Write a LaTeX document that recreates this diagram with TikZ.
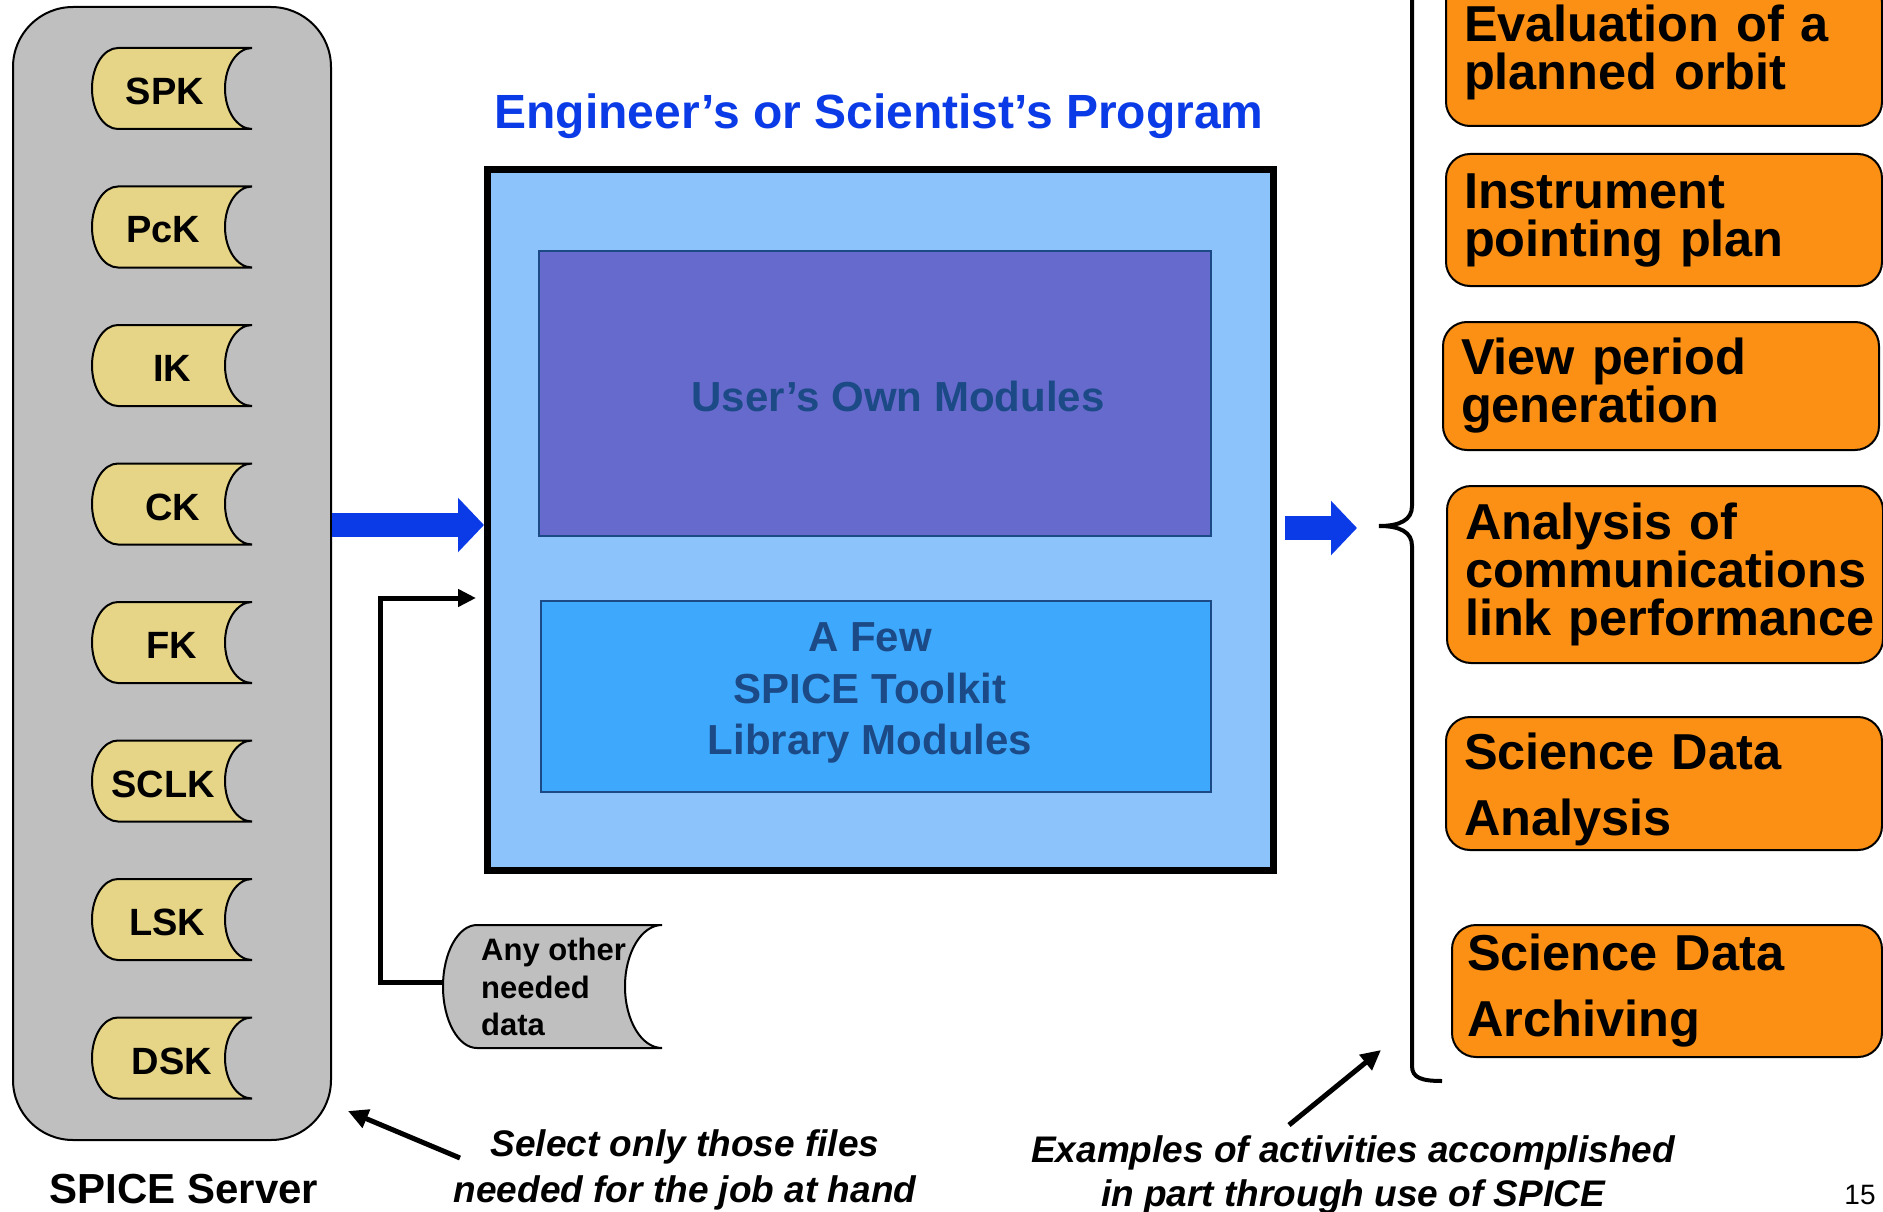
\documentclass[tikz,border=0pt]{standalone}
\usepackage{fontspec}
\setmainfont{Liberation Sans}
\usetikzlibrary{arrows.meta}
\definecolor{servergray}{HTML}{BFBFBF}
\definecolor{kernelyellow}{HTML}{E6D586}
\definecolor{arrowblue}{HTML}{0A3BE6}
\definecolor{programblue}{HTML}{8CC3FA}
\definecolor{ownviolet}{HTML}{666ACC}
\definecolor{toolkitblue}{HTML}{3EA9FC}
\definecolor{modulenavy}{HTML}{1B4A86}
\definecolor{activityorange}{HTML}{FB9014}
\tikzset{
  bluearrow/.style={draw=arrowblue,line width=24pt,-{Triangle[length=26pt,width=53pt]}},
  pointer/.style={line width=5pt,-{Triangle[length=20pt,width=19pt]}},
  activity/.style={draw,line width=2pt,fill=activityorange,rounded corners=24pt,
    anchor=west,minimum width=436pt,text width=400pt,align=left,
    font=\bfseries\fontsize{50.5}{48}\selectfont},
  module/.style={draw=modulenavy,line width=2pt},
  modtext/.style={text=modulenavy,align=center,font=\bfseries\fontsize{42}{51.5}\selectfont},
  kernel/.style={font=\bfseries\fontsize{38}{40}\selectfont},
  remark/.style={align=center,font=\bfseries\itshape\fontsize{37}{46}\selectfont}
}
\begin{document}
\begin{tikzpicture}[>=Latex,x=1pt,y=-1pt]
  % Configurable parameters
  \def\kleft{92}
  \def\kright{252}
  \def\khalf{40.5}
  %
  % Frame
  \clip (0,0) rectangle (1883,1212);
  %
  % SPICE server
  \node[draw,line width=2pt,fill=servergray,rounded corners=60pt,
    minimum width=318pt,minimum height=1133pt] (server) at (172,573.5) {};
  \node[font=\bfseries\fontsize{42}{48}\selectfont] (servername) at (184,1189) {SPICE Server};
  %
  % Kernel files
  \foreach \kname/\y/\tx in {SPK/88.5/165,PcK/227/163,IK/365.5/172,CK/504/173,
    FK/642.5/172,SCLK/781/163,LSK/919.5/167,DSK/1058/172}{
    \draw[line width=2pt,fill=kernelyellow] (\kright,\y-\khalf) -- (\kleft+26,\y-\khalf)
      arc[start angle=90,end angle=270,x radius=26pt,y radius=\khalf pt]
      -- (\kright,\y+\khalf)
      arc[start angle=270,end angle=90,x radius=27pt,y radius=\khalf pt];
    \node[kernel] (\kname) at (\tx,\y+3) {\kname};
  }
  %
  % Program
  \node[draw,line width=7pt,fill=programblue,minimum width=786pt,minimum height=701pt]
    (prog) at (880.5,520) {};
  \node[text=arrowblue,font=\bfseries\fontsize{48}{50}\selectfont] (progname) at (879,116)
    {Engineer’s or Scientist’s Program};
  \node[module,fill=ownviolet,minimum width=672pt,minimum height=285pt] (own) at (875,393.5) {};
  \node[modtext] (owntext) at (898,396) {User’s Own Modules};
  \node[module,fill=toolkitblue,minimum width=670pt,minimum height=191pt] (toolkit) at (876,696.5) {};
  \node[modtext] (toolkittext) at (870,693) {A Few\\SPICE Toolkit\\Library Modules};
  %
  % Other data
  \draw[line width=2pt,fill=servergray] (662,925) -- (477,925)
    arc[start angle=90,end angle=270,x radius=34pt,y radius=61.5pt] -- (662,1048)
    arc[start angle=270,end angle=90,x radius=37pt,y radius=61.5pt];
  \coordinate (otherW) at (443,982);
  \node[anchor=west,align=left,inner sep=0pt,font=\bfseries\fontsize{31}{37.5}\selectfont]
    (other) at (481,987) {Any other\\needed\\data};
  %
  % Data flow
  \coordinate (inY) at (0,525);
  \coordinate (feed) at (476,598);
  \coordinate (outB) at (1357,528);
  \path (prog.east |- outB) ++(8,0) coordinate (outA);
  \draw[bluearrow] (server.east |- inY) -- (prog.west |- inY);
  \draw[bluearrow] (outA) -- (outB);
  \draw[line width=5pt,-{Triangle[length=18pt,width=17pt]}] (otherW) -| (380,598) -- (feed);
  %
  % Activities
  \node[activity,minimum height=148pt] (orbit) at (1445,52) {Evaluation of a\\planned orbit};
  \node[activity,minimum height=132pt] (pointing) at (1445,220) {Instrument\\pointing plan};
  \node[activity,minimum height=128pt] (viewperiod) at (1442,386) {View period\\generation};
  \node[activity,minimum height=177pt] (commlink) at (1446,574.5)
    {Analysis of\\communications\\\mbox{link performance}};
  \node[activity,minimum height=133pt,font=\bfseries\fontsize{50.5}{66}\selectfont]
    (sciana) at (1445,783.5) {\rule{0pt}{49pt}Science Data\\Analysis};
  \node[activity,minimum height=132pt,minimum width=430pt,font=\bfseries\fontsize{50.5}{66}\selectfont]
    (sciarch) at (1451,991) {Science Data\\Archiving};
  %
  % Brace
  \draw[line width=4pt] (1412,-20) -- (1412,506)
    .. controls (1412,520) and (1400,526) .. (1379,526)
    .. controls (1400,526) and (1412,532) .. (1412,546)
    -- (1412,1066) .. controls (1412,1078) and (1422,1081) .. (1442,1081);
  %
  % Remarks
  \node[remark] (select) at (685,1170) {Select only those files\\needed for the job at hand};
  \node[remark,font=\bfseries\itshape\fontsize{37}{44}\selectfont] (examples) at (1353,1175)
    {Examples of activities accomplished\\in part through use of SPICE};
  \coordinate (selTail) at (460,1158);
  \coordinate (exTail) at (1289,1125);
  \coordinate (exTip) at (1381,1050);
  \draw[pointer] (selTail) -- ([shift={(16,-30)}]server.south east);
  \draw[pointer] (exTail) -- (exTip);
  %
  % Page number
  \node[font=\fontsize{28}{30}\selectfont] (pageno) at (1860,1195) {15};
  %
\end{tikzpicture}
\end{document}
